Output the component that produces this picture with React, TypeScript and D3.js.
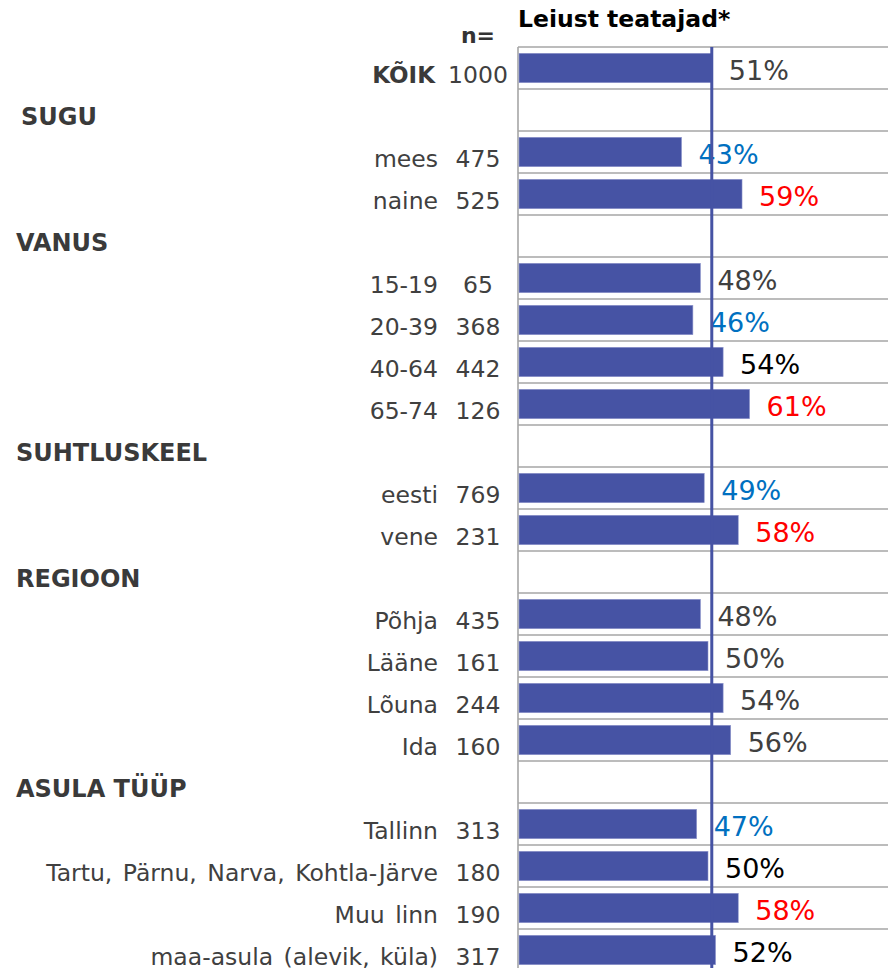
import React from "react";
import * as d3 from "d3";

// rows top to bottom; null n / share marks a section header row
const rowLabels = [
  "KÕIK", "SUGU", "mees", "naine", "VANUS", "15-19", "20-39", "40-64", "65-74",
  "SUHTLUSKEEL", "eesti", "vene", "REGIOON", "Põhja", "Lääne", "Lõuna", "Ida",
  "ASULA TÜÜP", "Tallinn", "Tartu, Pärnu, Narva, Kohtla-Järve", "Muu linn",
  "maa-asula (alevik, küla)",
];
const nCounts = [
  1000, null, 475, 525, null, 65, 368, 442, 126, null, 769, 231, null,
  435, 161, 244, 160, null, 313, 180, 190, 317,
];
const shares = [
  51, null, 43, 59, null, 48, 46, 54, 61, null, 49, 58, null,
  48, 50, 54, 56, null, 47, 50, 58, 52,
];
// colour of the value label: gray, black, low (blue), high (red)
const labelTones = [
  "gray", null, "low", "high", null, "gray", "low", "black", "high", null,
  "low", "high", null, "gray", "gray", "gray", "gray", null, "low", "black",
  "high", "black",
];
const reference = 51;
const title = "Leiust teatajad*";

const toneColor: Record<string, string> = {
  gray: "#404040",
  black: "#000000",
  low: "#0070c0",
  high: "#ff0000",
};

export default function App() {
  const width = 888;
  const height = 968;
  const top = 47;
  const step = 42;
  const left = 518;
  const barColor = "#4653a4";
  const font = "'DejaVu Sans', Verdana, sans-serif";

  const x = d3.scaleLinear().domain([0, 100]).range([left + 1, left + 379]);
  const y = d3
    .scaleBand<number>()
    .domain(d3.range(rowLabels.length))
    .range([top, top + step * rowLabels.length])
    .paddingInner(0.3)
    .paddingOuter(0.15);
  const rowCenter = (i: number) => top + step * i + step / 2;

  return (
    <svg
      width={width}
      height={height}
      style={{ position: "absolute", left: 0, top: 0, background: "#fff" }}
      fontFamily={font}
    >
      {/* grid */}
      {d3.range(rowLabels.length + 1).map((i) => (
        <line
          key={"g" + i}
          x1={left}
          x2={width}
          y1={top + step * i}
          y2={top + step * i}
          stroke="#a6a6a6"
          strokeWidth={1.6}
        />
      ))}
      <line x1={left} x2={left} y1={top} y2={height} stroke="#a6a6a6" strokeWidth={1.6} />

      <text x={left} y={27} fontSize={23.5} fontWeight="bold" fill="#000">
        {title}
      </text>
      <text x={478} y={43} fontSize={22} fontWeight="bold" fill="#333" textAnchor="middle">
        n=
      </text>

      {rowLabels.map((label, i) => {
        const share = shares[i];
        const n = nCounts[i];
        const cy = rowCenter(i);
        if (share === null) {
          return (
            <text
              key={i}
              x={i === 1 ? 21 : 16}
              y={cy + 15}
              fontSize={24}
              fontWeight="bold"
              fill="#3a3a3a"
            >
              {label}
            </text>
          );
        }
        const isTotal = i === 0;
        return (
          <g key={i}>
            <rect
              x={x(0)}
              y={y(i)}
              width={x(share) - x(0)}
              height={y.bandwidth()}
              fill={barColor}
              stroke="#8f97cc"
              strokeWidth={0.6}
            />
            <text
              x={isTotal ? 435 : 438}
              y={cy + 15}
              fontSize={isTotal ? 23 : 23.5}
              fontWeight={isTotal ? "bold" : "normal"}
              fill={isTotal ? "#3a3a3a" : "#404040"}
              textAnchor="end"
              wordSpacing={isTotal ? 0 : 3}
            >
              {label}
            </text>
            <text x={478} y={cy + 15} fontSize={23.5} fill="#404040" textAnchor="middle">
              {n}
            </text>
            <text
              x={x(share) + 17}
              y={cy + 12}
              fontSize={27}
              fill={toneColor[labelTones[i] as string]}
            >
              {share}%
            </text>
          </g>
        );
      })}

      {/* reference line for the total */}
      <line
        x1={x(reference)}
        x2={x(reference)}
        y1={top}
        y2={height}
        stroke={barColor}
        strokeWidth={3}
      />
    </svg>
  );
}
